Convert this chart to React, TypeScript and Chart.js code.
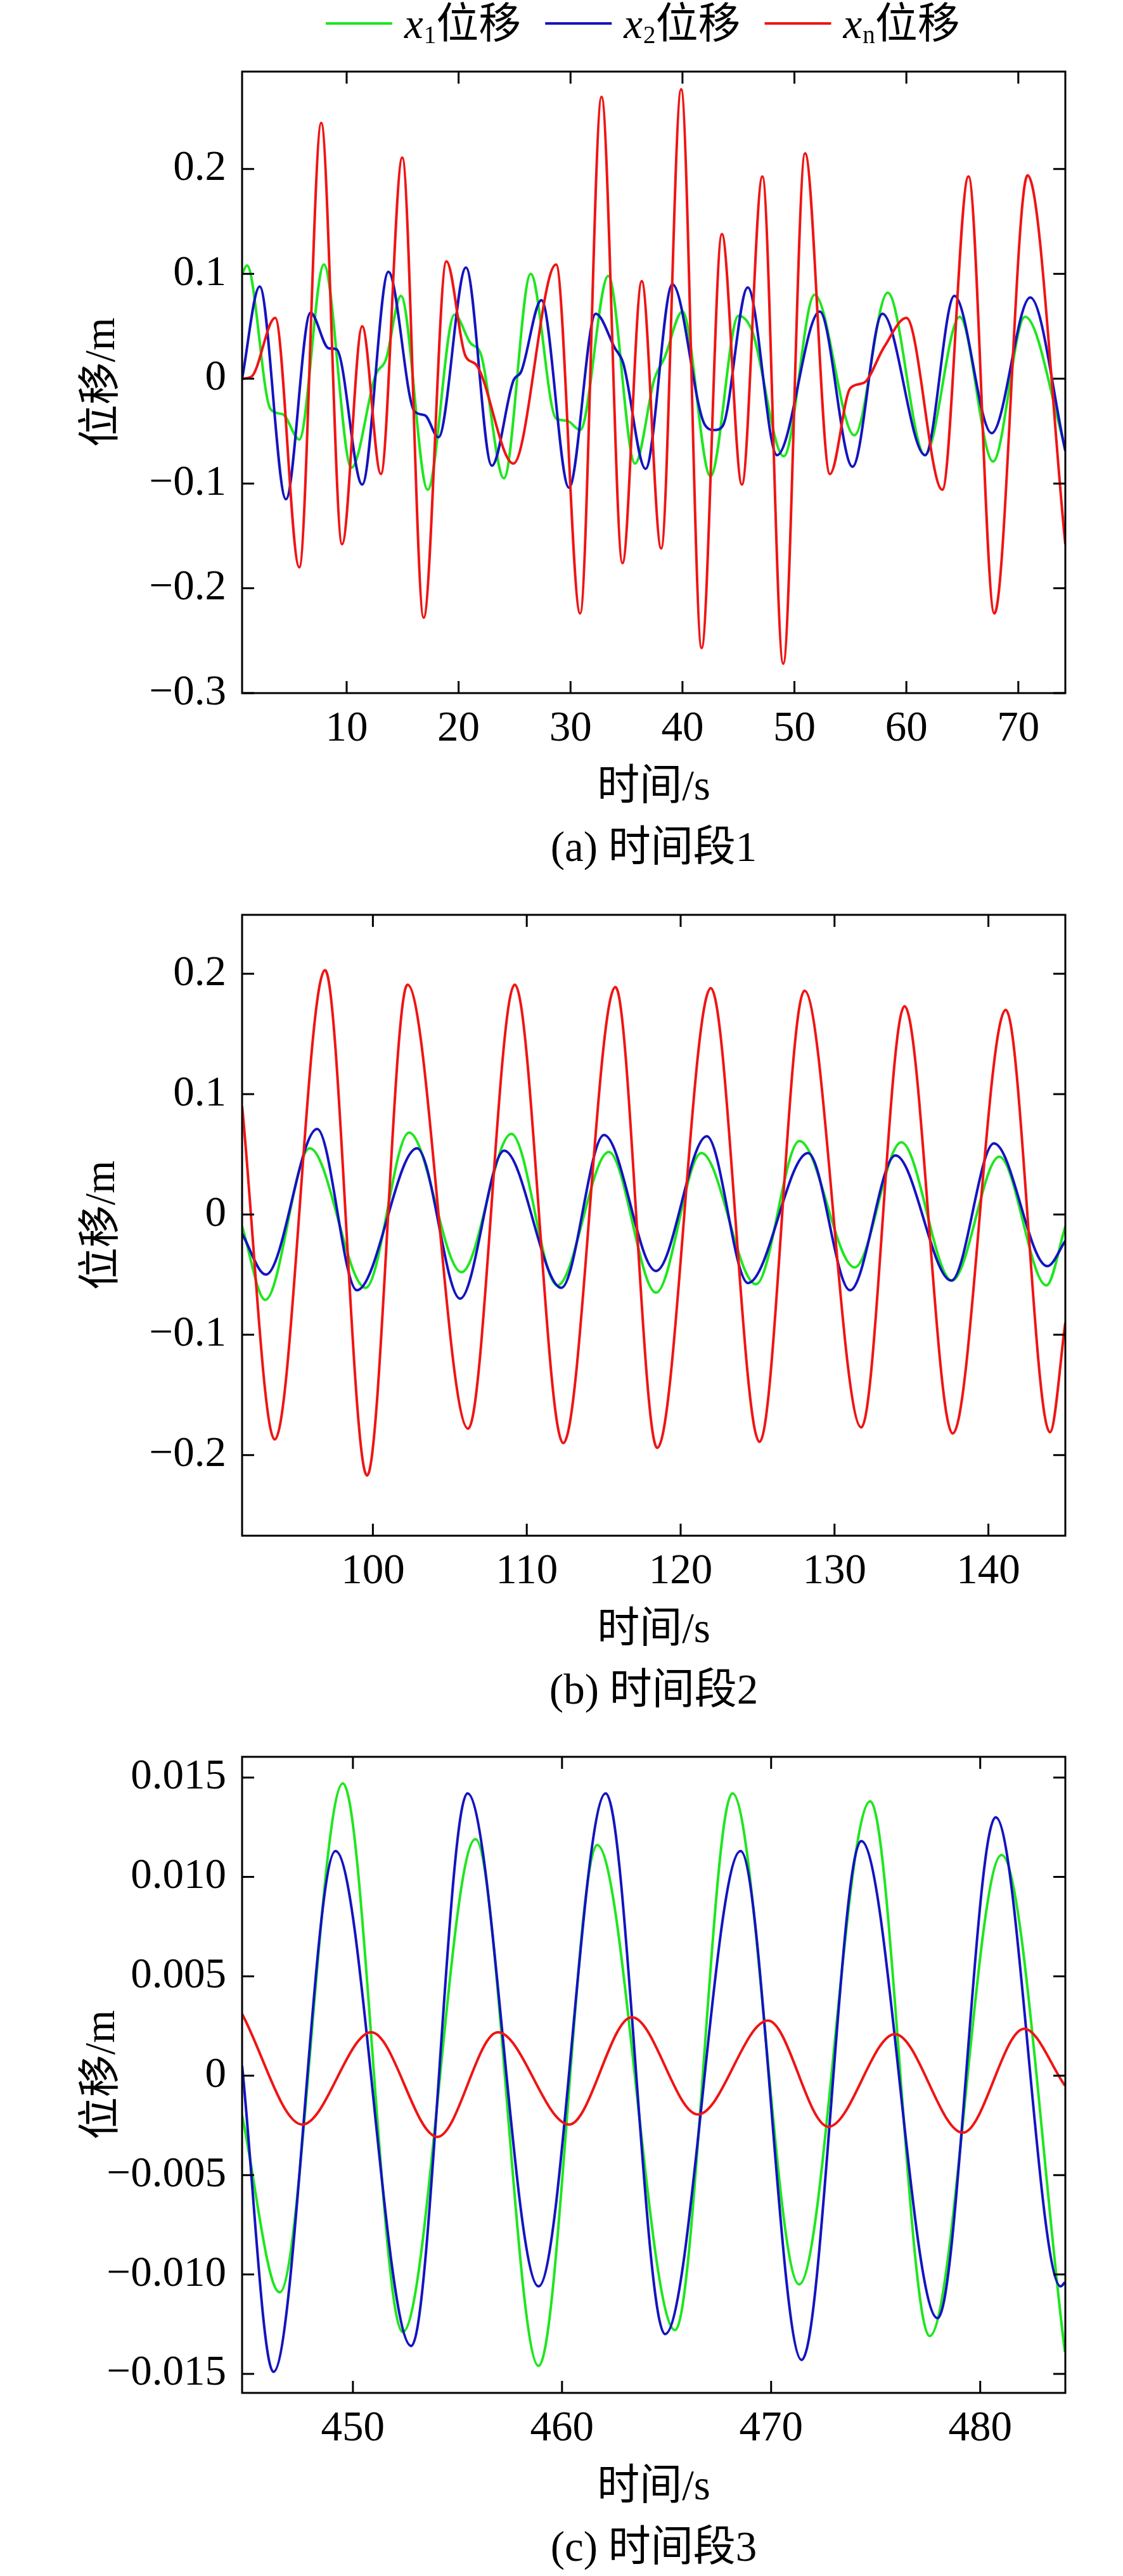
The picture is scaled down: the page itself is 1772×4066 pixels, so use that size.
import React, { useEffect, useRef } from 'react';
import { Chart, registerables } from 'chart.js';

Chart.register(...registerables);

const FONT = '"Liberation Serif", "Times New Roman", "Noto Sans CJK SC", serif';
const GREEN = '#1ee61e';
const BLUE = '#1414c0';
const RED = '#f01414';
const FS = 67;

// ---------- Panel (a) 时间段1 ----------
const P1_X1_T = [0.66, 1.1, 3.2, 4.3, 5.77, 7.97, 10.43, 12.6, 13.5, 14.85, 17.24, 19.63, 21.06, 22.0, 24.05, 26.44, 28.71, 29.67, 30.86, 33.37, 35.76, 37.5, 38.4, 40.0, 42.5, 45.0, 46.2, 49.05, 51.8, 55.36, 58.33, 61.67, 64.76, 67.74, 70.6, 74.2];
const P1_X1_Y = [0.100, 0.108, -0.029, -0.034, -0.058, 0.109, -0.085, 0.004, 0.018, 0.079, -0.106, 0.061, 0.034, 0.023, -0.095, 0.100, -0.038, -0.040, -0.049, 0.098, -0.081, 0.0, 0.020, 0.064, -0.093, 0.060, 0.046, -0.074, 0.080, -0.054, 0.082, -0.073, 0.059, -0.079, 0.059, -0.066];

const P1_X2_T = [0.66, 2.23, 4.58, 6.77, 8.4, 9.1, 11.39, 13.73, 16.05, 17.0, 18.2, 20.66, 22.97, 24.89, 25.6, 27.4, 29.86, 32.25, 33.97, 34.7, 36.7, 39.1, 42.0, 42.86, 43.6, 45.83, 48.45, 52.26, 55.19, 57.86, 61.67, 64.29, 67.62, 71.07, 74.2];
const P1_X2_Y = [0.0, 0.088, -0.115, 0.063, 0.029, 0.028, -0.101, 0.102, -0.031, -0.035, -0.056, 0.106, -0.083, -0.002, 0.007, 0.075, -0.104, 0.062, 0.029, 0.015, -0.086, 0.090, -0.044, -0.049, -0.045, 0.087, -0.073, 0.064, -0.084, 0.062, -0.073, 0.079, -0.052, 0.0775, -0.069];

const P1_XN_T = [0.66, 1.5, 3.62, 5.77, 7.73, 9.59, 11.39, 13.06, 14.97, 16.88, 18.91, 20.6, 21.6, 24.89, 28.71, 30.86, 32.77, 34.64, 36.36, 38.1, 39.88, 41.71, 43.52, 45.31, 47.14, 49.0, 50.95, 53.17, 55.0, 56.2, 58.0, 60.0, 63.21, 65.55, 67.86, 70.83, 74.2];
const P1_XN_Y = [0.0, 0.002, 0.058, -0.180, 0.244, -0.158, 0.050, -0.091, 0.211, -0.228, 0.112, 0.022, 0.013, -0.081, 0.109, -0.224, 0.269, -0.176, 0.093, -0.162, 0.276, -0.257, 0.138, -0.101, 0.193, -0.272, 0.215, -0.091, -0.009, -0.004, 0.030, 0.058, -0.106, 0.193, -0.224, 0.194, -0.158];

const P1_XTICKS = [10, 20, 30, 40, 50, 60, 70];
const P1_YTICKS = [-0.3, -0.2, -0.1, 0, 0.1, 0.2];
const P1_YLABELS = ['−0.3', '−0.2', '−0.1', '0', '0.1', '0.2'];

// ---------- Panel (b) 时间段2 ----------
const P2_X1_T = [91.5, 93.01, 95.9, 99.53, 102.35, 105.76, 109.0, 111.99, 115.33, 118.4, 121.35, 124.9, 127.72, 131.31, 134.34, 137.63, 140.71, 143.77, 145.0];
const P2_X1_Y = [-0.010, -0.071, 0.055, -0.061, 0.068, -0.048, 0.067, -0.059, 0.052, -0.065, 0.051, -0.058, 0.061, -0.044, 0.060, -0.055, 0.048, -0.059, -0.010];

const P2_X2_T = [91.5, 93.05, 96.38, 98.96, 102.87, 105.67, 108.53, 112.25, 115.02, 118.4, 121.7, 124.38, 128.28, 131.01, 133.96, 137.59, 140.36, 143.83, 145.0];
const P2_X2_Y = [-0.016, -0.050, 0.071, -0.063, 0.055, -0.070, 0.053, -0.061, 0.066, -0.047, 0.065, -0.057, 0.051, -0.063, 0.049, -0.055, 0.059, -0.043, -0.022];

const P2_XN_T = [91.5, 93.62, 96.89, 99.62, 102.25, 106.19, 109.22, 112.37, 115.76, 118.48, 121.96, 125.13, 128.05, 131.74, 134.55, 137.68, 141.13, 144.0, 145.0];
const P2_XN_Y = [0.090, -0.187, 0.203, -0.217, 0.191, -0.178, 0.191, -0.190, 0.189, -0.194, 0.188, -0.189, 0.186, -0.177, 0.173, -0.182, 0.170, -0.181, -0.090];

const P2_XTICKS = [100, 110, 120, 130, 140];
const P2_YTICKS = [-0.2, -0.1, 0, 0.1, 0.2];
const P2_YLABELS = ['−0.2', '−0.1', '0', '0.1', '0.2'];

// ---------- Panel (c) 时间段3 ----------
const P3_X1_T = [444.7, 446.5, 449.52, 452.38, 455.86, 458.88, 461.68, 465.41, 468.15, 471.34, 474.74, 477.58, 481.02, 484.05];
const P3_X1_Y = [-0.002, -0.0109, 0.0147, -0.0129, 0.0119, -0.0146, 0.0116, -0.0128, 0.0142, -0.0105, 0.0138, -0.0131, 0.0111, -0.0139];

const P3_X2_T = [444.7, 446.2, 449.17, 452.79, 455.48, 458.88, 462.09, 464.93, 468.54, 471.46, 474.31, 477.96, 480.74, 483.85, 484.05];
const P3_X2_Y = [0.0005, -0.0149, 0.0113, -0.0136, 0.0142, -0.0106, 0.0142, -0.0130, 0.0113, -0.0143, 0.0118, -0.0122, 0.0130, -0.0106, -0.0104];

const P3_XN_T = [444.7, 447.58, 450.88, 454.04, 456.93, 460.34, 463.34, 466.5, 469.85, 472.74, 475.92, 479.17, 482.1, 484.05];
const P3_XN_Y = [0.0031, -0.00246, 0.00218, -0.00308, 0.00218, -0.00246, 0.00294, -0.00195, 0.00277, -0.00257, 0.00209, -0.00287, 0.00236, -0.0005];

const P3_XTICKS = [450, 460, 470, 480];
const P3_YTICKS = [-0.015, -0.01, -0.005, 0, 0.005, 0.01, 0.015];
const P3_YLABELS = ['−0.015', '−0.010', '−0.005', '0', '0.005', '0.010', '0.015'];

const SERIES_SUBS = ['1', '2', 'n'];
const SERIES_COLORS = [GREEN, BLUE, RED];

const X_TITLE = '时间/s';
const Y_TITLE = '位移/m';

const toPts = (t: number[], y: number[]) => t.map((v, i) => ({ x: v, y: y[i] }));

const decorPlugin = {
  id: 'decor',
  afterDraw(chart: any, _args: any, opts: any) {
    const { ctx, chartArea: a } = chart;
    const xs = chart.scales.x;
    const ys = chart.scales.y;
    ctx.save();
    ctx.strokeStyle = '#000';
    ctx.lineWidth = 3;
    ctx.strokeRect(a.left, a.top, a.right - a.left, a.bottom - a.top);
    const TL = 19;
    ctx.beginPath();
    xs.ticks.forEach((t: any) => {
      const px = xs.getPixelForValue(t.value);
      ctx.moveTo(px, a.bottom);
      ctx.lineTo(px, a.bottom - TL);
      ctx.moveTo(px, a.top);
      ctx.lineTo(px, a.top + TL);
    });
    ys.ticks.forEach((t: any) => {
      const py = ys.getPixelForValue(t.value);
      ctx.moveTo(a.left, py);
      ctx.lineTo(a.left + TL, py);
      ctx.moveTo(a.right, py);
      ctx.lineTo(a.right - TL, py);
    });
    ctx.stroke();

    ctx.fillStyle = '#000';
    ctx.font = `${FS}px ${FONT}`;
    ctx.textAlign = 'center';
    ctx.textBaseline = 'middle';
    const cx = (a.left + a.right) / 2;
    ctx.fillText(opts.xTitle, cx, a.bottom + 150);
    ctx.fillText(opts.caption, cx, a.bottom + 247);
    ctx.save();
    ctx.translate(162, (a.top + a.bottom) / 2);
    ctx.rotate(-Math.PI / 2);
    ctx.fillText(opts.yTitle, 0, 0);
    ctx.restore();

    if (opts.legend) {
      let x = 514;
      const lineY = 37;
      const base = 60;
      ctx.textAlign = 'left';
      ctx.textBaseline = 'alphabetic';
      SERIES_SUBS.forEach((sub, i) => {
        ctx.strokeStyle = SERIES_COLORS[i];
        ctx.lineWidth = 4;
        ctx.beginPath();
        ctx.moveTo(x, lineY);
        ctx.lineTo(x + 105, lineY);
        ctx.stroke();
        x += 124;
        ctx.fillStyle = '#000';
        ctx.font = `italic ${FS}px ${FONT}`;
        ctx.fillText('x', x, base);
        x += ctx.measureText('x').width + 1;
        ctx.font = `39px ${FONT}`;
        ctx.fillText(sub, x, base + 8);
        x += ctx.measureText(sub).width;
        ctx.font = `${FS}px ${FONT}`;
        ctx.fillText('位移', x, base);
        x += ctx.measureText('位移').width + 38;
      });
    }
    ctx.restore();
  },
};

interface PanelProps {
  top: number;
  height: number;
  areaTop: number;
  areaBottom: number;
  xMin: number;
  xMax: number;
  yMin: number;
  yMax: number;
  xTicks: number[];
  yTicks: number[];
  yLabels: string[];
  series: { t: number[]; y: number[] }[];
  caption: string;
  legend: boolean;
}

function Panel(p: PanelProps) {
  const ref = useRef<HTMLCanvasElement | null>(null);
  useEffect(() => {
    if (!ref.current) return;
    const names = SERIES_SUBS.map((s) => `x${s}位移`);
    const orders = [2, 1, 0];
    const chart = new Chart(ref.current, {
      type: 'line',
      data: {
        datasets: p.series.map((s, i) => ({
          label: names[i],
          data: toPts(s.t, s.y),
          borderColor: SERIES_COLORS[i],
          backgroundColor: SERIES_COLORS[i],
          borderWidth: 4,
          pointRadius: 0,
          fill: false,
          cubicInterpolationMode: 'monotone' as const,
          order: orders[i],
        })),
      },
      options: {
        animation: false,
        responsive: false,
        devicePixelRatio: 1,
        layout: { padding: { top: p.areaTop, right: 1772 - 1681, bottom: 0, left: 0 } },
        plugins: {
          legend: { display: false },
          tooltip: { enabled: false },
          decor: { xTitle: X_TITLE, yTitle: Y_TITLE, caption: p.caption, legend: p.legend },
        } as any,
        scales: {
          x: {
            type: 'linear',
            min: p.xMin,
            max: p.xMax,
            grid: { display: false, drawTicks: false },
            border: { display: false },
            afterBuildTicks: (scale: any) => {
              scale.ticks = p.xTicks.map((v) => ({ value: v }));
            },
            afterFit: (scale: any) => {
              scale.height = p.height - p.areaBottom;
              scale.paddingLeft = 0;
              scale.paddingRight = 0;
            },
            ticks: {
              autoSkip: false,
              maxRotation: 0,
              padding: 17,
              color: '#000',
              font: { family: FONT, size: FS },
              callback: (v: any) => String(v),
            },
          },
          y: {
            type: 'linear',
            min: p.yMin,
            max: p.yMax,
            grid: { display: false, drawTicks: false },
            border: { display: false },
            afterBuildTicks: (scale: any) => {
              scale.ticks = p.yTicks.map((v) => ({ value: v }));
            },
            afterFit: (scale: any) => {
              scale.width = 382;
              scale.paddingTop = 0;
              scale.paddingBottom = 0;
            },
            ticks: {
              autoSkip: false,
              padding: 25,
              color: '#000',
              font: { family: FONT, size: FS },
              callback: (_v: any, i: number) => p.yLabels[i],
            },
          },
        },
      },
      plugins: [decorPlugin as any],
    });
    return () => chart.destroy();
  }, []);
  return (
    <canvas
      ref={ref}
      width={1772}
      height={p.height}
      style={{ position: 'absolute', left: 0, top: p.top, width: 1772, height: p.height }}
    />
  );
}

export default function App() {
  return (
    <div style={{ position: 'absolute', left: 0, top: 0, width: 1772, height: 4066, background: '#fff', overflow: 'hidden' }}>
      <Panel
        top={0}
        height={1400}
        areaTop={113}
        areaBottom={1094}
        xMin={0.66}
        xMax={74.2}
        yMin={-0.3}
        yMax={0.293}
        xTicks={P1_XTICKS}
        yTicks={P1_YTICKS}
        yLabels={P1_YLABELS}
        series={[
          { t: P1_X1_T, y: P1_X1_Y },
          { t: P1_X2_T, y: P1_X2_Y },
          { t: P1_XN_T, y: P1_XN_Y },
        ]}
        caption="(a) 时间段1"
        legend={true}
      />
      <Panel
        top={1400}
        height={1310}
        areaTop={44}
        areaBottom={1024}
        xMin={91.5}
        xMax={145.0}
        yMin={-0.267}
        yMax={0.249}
        xTicks={P2_XTICKS}
        yTicks={P2_YTICKS}
        yLabels={P2_YLABELS}
        series={[
          { t: P2_X1_T, y: P2_X1_Y },
          { t: P2_X2_T, y: P2_X2_Y },
          { t: P2_XN_T, y: P2_XN_Y },
        ]}
        caption="(b) 时间段2"
        legend={false}
      />
      <Panel
        top={2710}
        height={1356}
        areaTop={63}
        areaBottom={1067}
        xMin={444.7}
        xMax={484.07}
        yMin={-0.01596}
        yMax={0.01604}
        xTicks={P3_XTICKS}
        yTicks={P3_YTICKS}
        yLabels={P3_YLABELS}
        series={[
          { t: P3_X1_T, y: P3_X1_Y },
          { t: P3_X2_T, y: P3_X2_Y },
          { t: P3_XN_T, y: P3_XN_Y },
        ]}
        caption="(c) 时间段3"
        legend={false}
      />
    </div>
  );
}
